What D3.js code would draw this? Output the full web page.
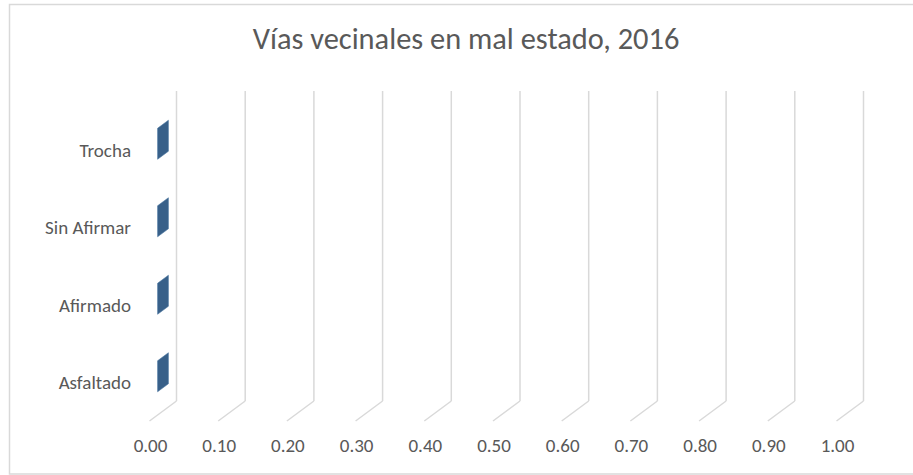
<!DOCTYPE html>
<meta charset="utf-8">
<style>
    body {
        margin: 0;
        background-color: #fff;
    }

    svg {
        font-family: Calibri, Carlito, Lato, sans-serif;
    }

    .label {
        fill: #595959;
    }

    .grid line {
        stroke: #d9d9d9;
        stroke-width: 1.5;
    }
</style>

<body>
    <script src="https://cdn.jsdelivr.net/npm/d3@7/dist/d3.min.js"></script>
    <script>
        // data, top to bottom as shown
        var categories = ["Trocha", "Sin Afirmar", "Afirmado", "Asfaltado"];
        var values = [0, 0, 0, 0];
        var ticks = [0, 0.1, 0.2, 0.3, 0.4, 0.5, 0.6, 0.7, 0.8, 0.9, 1.0];
        var title = "Vías vecinales en mal estado, 2016";

        var width = 913,
            height = 475;

        // 3D depth offset of the floor (front -> back)
        var depth = { dx: 27, dy: -20 };

        var svg = d3.select("body").append("svg")
            .attr("width", width)
            .attr("height", height);

        // chart area border
        svg.append("rect")
            .attr("x", 9.5)
            .attr("y", 4.5)
            .attr("width", 912)
            .attr("height", 469.5)
            .attr("fill", "#fff")
            .attr("stroke", "#d9d9d9")
            .attr("stroke-width", 1.5);

        // scales on the front plane
        var x = d3.scaleLinear()
            .domain([0, 1])
            .range([149.5, 836.5]);

        var y = d3.scaleBand()
            .domain(categories)
            .range([111, 421])
            .paddingInner(0.6)
            .paddingOuter(0.3);

        var back = function(px, py, d) {
            return [px + depth.dx * d, py + depth.dy * d];
        };

        // gridlines: floor slant + back wall vertical
        var grid = svg.append("g").attr("class", "grid");
        grid.selectAll(".floor")
            .data(ticks)
            .enter().append("line")
            .attr("class", "floor")
            .attr("x1", d => x(d))
            .attr("y1", 421)
            .attr("x2", d => back(x(d), 421, 1)[0])
            .attr("y2", d => back(x(d), 421, 1)[1]);
        grid.selectAll(".wall")
            .data(ticks)
            .enter().append("line")
            .attr("class", "wall")
            .attr("x1", d => back(x(d), 421, 1)[0])
            .attr("y1", back(0, 421, 1)[1])
            .attr("x2", d => back(x(d), 111, 1)[0])
            .attr("y2", back(0, 111, 1)[1]);

        // bars (zero length, only the end face shows), depth 0.3..0.7
        var d0 = 0.3,
            d1 = 0.7;
        svg.append("g").selectAll("path")
            .data(categories.map((c, i) => ({ cat: c, v: values[i] })))
            .enter().append("path")
            .attr("fill", "#386089")
            .attr("stroke", "#4a76a0")
            .attr("stroke-width", 0.6)
            .attr("d", function(d) {
                var x0 = x(0),
                    x1 = x(d.v),
                    yt = y(d.cat),
                    yb = y(d.cat) + y.bandwidth();
                var pts = [
                    back(x0, yt, d0), back(x0, yt, d1), back(x1, yt, d1),
                    back(x1, yb, d1), back(x1, yb, d0), back(x0, yb, d0)
                ];
                return "M" + pts.join("L") + "Z";
            });

        // category labels
        svg.append("g").selectAll("text")
            .data(categories)
            .enter().append("text")
            .attr("class", "label")
            .attr("x", 131)
            .attr("y", d => y(d) + y.bandwidth() / 2 + 7)
            .attr("text-anchor", "end")
            .style("font-size", "19px")
            .text(d => d);

        // value tick labels
        svg.append("g").selectAll("text")
            .data(ticks)
            .enter().append("text")
            .attr("class", "label")
            .attr("x", d => x(d) + 1)
            .attr("y", 452)
            .attr("text-anchor", "middle")
            .style("font-size", "19px")
            .text(d => d3.format(".2f")(d));

        // title, sized to the width it has in the picture
        var titleText = svg.append("text")
            .attr("class", "label")
            .attr("x", 466)
            .attr("y", 49)
            .attr("text-anchor", "middle")
            .style("font-size", "24px")
            .text(title);
        var tw = titleText.node().getComputedTextLength();
        titleText.style("font-size", (24 * 427 / tw) + "px");
    </script>
</body>
